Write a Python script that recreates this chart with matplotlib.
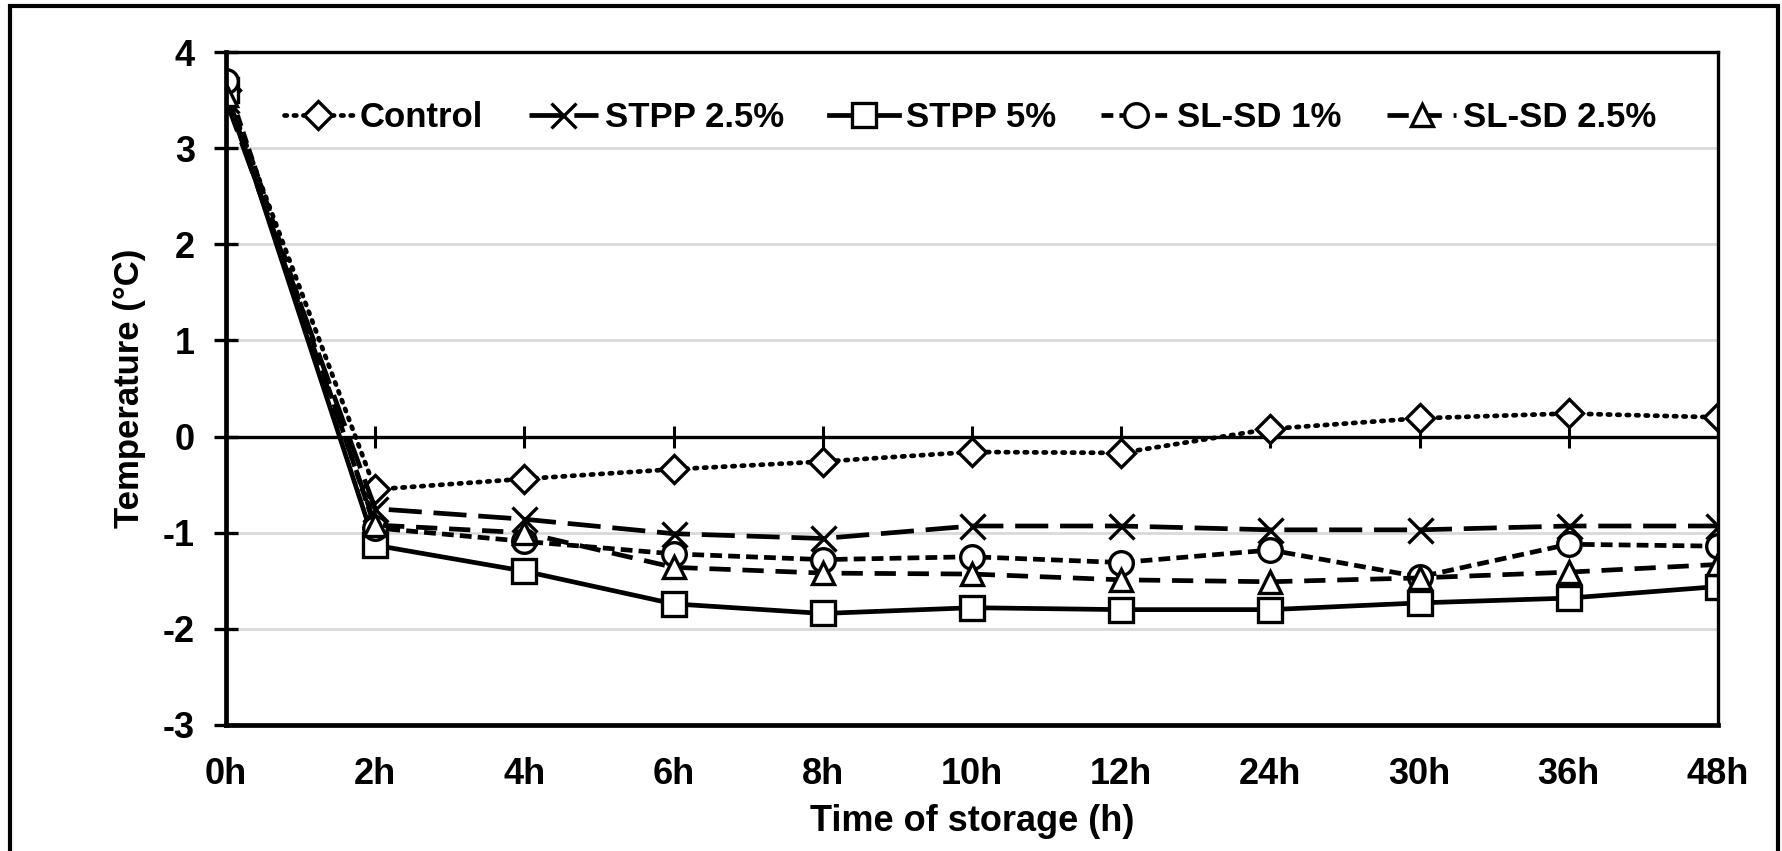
import numpy as np
import matplotlib
matplotlib.use("Agg")
import matplotlib.pyplot as plt
from matplotlib.patches import Rectangle

plt.rcParams['font.family'] = ['Liberation Sans', 'DejaVu Sans']
plt.rcParams['axes.unicode_minus'] = False

# data
times = ['0h', '2h', '4h', '6h', '8h', '10h', '12h', '24h', '30h', '36h', '48h']
control = [3.60, -0.55, -0.44, -0.34, -0.26, -0.16, -0.17, 0.08, 0.19, 0.24, 0.20]
stpp25 = [3.50, -0.75, -0.86, -1.01, -1.06, -0.93, -0.93, -0.97, -0.97, -0.93, -0.93]
stpp5 = [3.60, -1.13, -1.40, -1.74, -1.84, -1.78, -1.80, -1.80, -1.73, -1.68, -1.56]
slsd1 = [3.70, -0.95, -1.09, -1.22, -1.28, -1.25, -1.31, -1.18, -1.46, -1.12, -1.14]
slsd25 = [3.55, -0.92, -1.00, -1.36, -1.42, -1.43, -1.49, -1.51, -1.47, -1.41, -1.33]

x = np.arange(len(times))

fig = plt.figure(figsize=(17.82, 8.51), dpi=100)
ax = fig.add_axes([226 / 1782, 1 - 725 / 851, (1718 - 226) / 1782, (725 - 52) / 851])

mk = dict(color='black', markerfacecolor='white', markeredgecolor='black',
          markeredgewidth=2.4, lw=3.4)
ax.plot(x, control, linestyle=(0, (0.5, 1.5)), dash_capstyle='round', marker='D', ms=14, label='Control', **mk)
ax.plot(x, stpp25, linestyle=(0, (7, 2.5)), marker='x', ms=18, label='STPP 2.5%', **mk)
ax.plot(x, stpp5, linestyle='-', marker='s', ms=17, label='STPP 5%', **mk)
ax.plot(x, slsd1, linestyle=(0, (2.5, 1.3)), marker='o', ms=17, label='SL-SD 1%', **mk)
ax.plot(x, slsd25, linestyle=(0, (4.5, 2.5)), marker='^', ms=16, label='SL-SD 2.5%', **mk)

# horizontal axis line at zero with crossing ticks
ax.axhline(0, color='black', lw=2.4, zorder=1)
ax.plot(x, np.zeros(len(x)), linestyle='none', marker='|', ms=16, mew=2.2, color='black', zorder=1)

ax.set_xlim(0, len(times) - 1)
ax.set_ylim(-3, 4)
ax.set_yticks(range(-3, 5))
ax.yaxis.grid(True, color='#d9d9d9', lw=2)
ax.set_axisbelow(True)
ax.set_xticks(x)
ax.set_xticklabels(times)
ax.tick_params(axis='x', length=0, pad=23, labelsize=26)
ax.tick_params(axis='y', direction='inout', length=17, width=2.4, pad=14, labelsize=26)
for lbl in ax.get_xticklabels() + ax.get_yticklabels():
    lbl.set_fontweight('bold')

for side in ['left', 'bottom']:
    ax.spines[side].set_linewidth(3.4)
for side in ['top', 'right']:
    ax.spines[side].set_linewidth(2.4)

ax.set_ylabel('Temperature (°C)', fontsize=25, fontweight='bold', labelpad=12)
ax.set_xlabel('Time of storage (h)', fontsize=26, fontweight='bold', labelpad=9)

ax.legend(loc='center', bbox_to_anchor=(0.4987, 0.902), ncol=5, frameon=False,
          handlelength=2.0, handletextpad=0.2, columnspacing=1.3,
          prop={'weight': 'bold', 'size': 25})

fig.patches.append(Rectangle((10 / 1782, -0.02), 1768 / 1782, 1.02 - 6 / 851, transform=fig.transFigure,
                             fill=False, edgecolor='black', lw=3))

fig.savefig('out.png', dpi=100)
